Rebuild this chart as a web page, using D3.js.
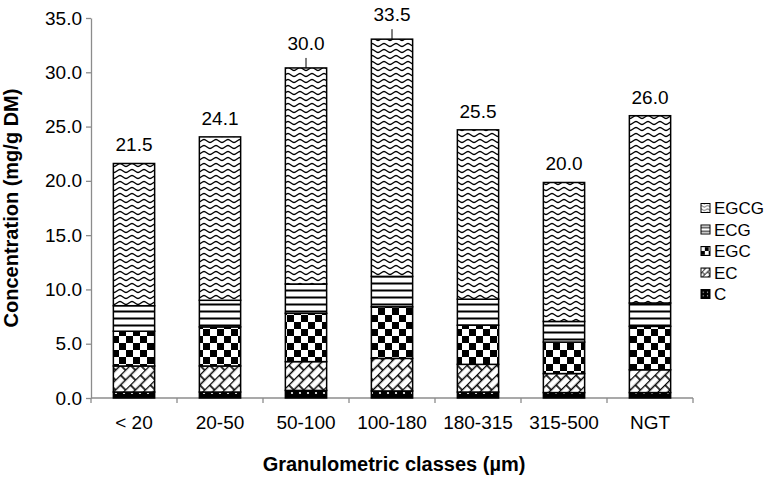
<!DOCTYPE html>
<html><head><meta charset="utf-8">
<script src="https://cdn.jsdelivr.net/npm/d3@7"></script>
<style>body{margin:0;background:#fff}svg{display:block}text{font-family:"Liberation Sans",Arial,sans-serif}</style>
</head><body><svg id="c" width="780" height="478"></svg>
<script>
const categories = ["< 20","20-50","50-100","100-180","180-315","315-500","NGT"];
const seriesNames = ["C","EC","EGC","ECG","EGCG"];
const C    = [0.55,0.55,0.70,0.65,0.55,0.50,0.50];
const EC   = [2.40,2.40,2.65,3.00,2.55,1.75,2.10];
const EGC  = [3.20,3.60,4.45,4.75,3.60,2.90,4.00];
const ECG  = [2.35,2.45,2.70,2.80,2.40,1.90,2.15];
const EGCG = [13.10,15.05,19.90,21.85,15.60,12.80,17.25];
const totalLabels = ["21.5","24.1","30.0","33.5","25.5","20.0","26.0"];
const leader = [false,false,true,true,false,false,false];
const yTicks = [0,5,10,15,20,25,30,35];

const svg = d3.select("#c");
const L=91, R=693, T=18, B=398;
const x = d3.scaleBand().domain(categories).range([L,R]).paddingInner(0.52).paddingOuter(0.26);
const y = d3.scaleLinear().domain([0,35]).range([B,T]);

const defs = svg.append("defs");
function mkPatterns(suffix, s){
  let p = defs.append("pattern").attr("id","pC"+suffix).attr("patternUnits","userSpaceOnUse")
    .attr("width",8).attr("height",6).attr("patternTransform",`scale(${s})`);
  p.append("rect").attr("width",8).attr("height",6).attr("fill","#000");
  p.append("circle").attr("cx",4).attr("cy",3).attr("r",1.1).attr("fill","#fff");
  p = defs.append("pattern").attr("id","pEC"+suffix).attr("patternUnits","userSpaceOnUse")
    .attr("width",14).attr("height",14).attr("patternTransform",`scale(${s}) rotate(-45)`);
  p.append("rect").attr("width",14).attr("height",14).attr("fill","#fff");
  p.append("path").attr("d","M0,0.5H14M0,7.5H14M2,0.5V7.5M9,7.5V14.5")
    .attr("stroke","#000").attr("stroke-width",1.6).attr("fill","none");
  p = defs.append("pattern").attr("id","pEGC"+suffix).attr("patternUnits","userSpaceOnUse")
    .attr("width",14).attr("height",14).attr("patternTransform",`scale(${s})`);
  p.append("rect").attr("width",14).attr("height",14).attr("fill","#fff");
  p.append("rect").attr("width",7).attr("height",7).attr("fill","#000");
  p.append("rect").attr("x",7).attr("y",7).attr("width",7).attr("height",7).attr("fill","#000");
  p = defs.append("pattern").attr("id","pECG"+suffix).attr("patternUnits","userSpaceOnUse")
    .attr("width",8).attr("height",7).attr("patternTransform",`scale(${s})`);
  p.append("rect").attr("width",8).attr("height",7).attr("fill","#fff");
  p.append("rect").attr("y",2.5).attr("width",8).attr("height",2).attr("fill","#000");
  p = defs.append("pattern").attr("id","pEGCG"+suffix).attr("patternUnits","userSpaceOnUse")
    .attr("width",12).attr("height",6).attr("patternTransform",`scale(${s})`);
  p.append("rect").attr("width",12).attr("height",6).attr("fill","#fff");
  p.append("path").attr("d","M0,1.5C2,1.5 4,4.5 6,4.5C8,4.5 10,1.5 12,1.5")
    .attr("stroke","#000").attr("stroke-width",1.3).attr("fill","none");
}
mkPatterns("",1);
mkPatterns("L",0.55);

const rows = categories.map((c,i)=>({cat:c,C:C[i],EC:EC[i],EGC:EGC[i],ECG:ECG[i],EGCG:EGCG[i]}));
const stacked = d3.stack().keys(seriesNames)(rows);

const gy = svg.append("g").attr("transform",`translate(${L},0)`)
  .call(d3.axisLeft(y).tickValues(yTicks).tickFormat(d3.format(".1f")).tickSize(5).tickSizeOuter(0));
gy.select(".domain").attr("stroke","#8c8c8c").attr("stroke-width",1.3);
gy.selectAll(".tick line").attr("stroke","#8c8c8c").attr("stroke-width",1.3);
gy.selectAll(".tick text").attr("font-size",19).attr("fill","#000").attr("x",-9)
  .attr("font-family","Liberation Sans, Arial, sans-serif");

const gx = svg.append("g").attr("transform",`translate(0,${B})`);
gx.append("line").attr("x1",L).attr("x2",R).attr("stroke","#8c8c8c").attr("stroke-width",1.3);
d3.range(categories.length+1).forEach(k=>{
  const xx = L + k*(R-L)/categories.length;
  gx.append("line").attr("x1",xx).attr("x2",xx).attr("y1",0).attr("y2",5).attr("stroke","#8c8c8c").attr("stroke-width",1.3);
});
gx.selectAll("text.cat").data(categories).enter().append("text").attr("class","cat")
  .attr("x",d=>x(d)+x.bandwidth()/2).attr("y",31).attr("text-anchor","middle")
  .attr("font-size",19).text(d=>d);

stacked.forEach(layer=>{
  svg.append("g").selectAll("rect").data(layer).enter().append("rect")
    .attr("x",d=>x(d.data.cat)).attr("width",x.bandwidth())
    .attr("y",d=>y(d[1])).attr("height",d=>y(d[0])-y(d[1]))
    .attr("fill",`url(#p${layer.key})`).attr("stroke","#000").attr("stroke-width",1.5);
});

const topLayer = stacked[stacked.length-1];
topLayer.forEach((d,i)=>{
  const cx = x(d.data.cat)+x.bandwidth()/2;
  const ty = y(d[1]);
  if(leader[i]){
    svg.append("line").attr("x1",cx).attr("x2",cx).attr("y1",ty-10).attr("y2",ty).attr("stroke","#000").attr("stroke-width",1);
    svg.append("text").attr("x",cx).attr("y",ty-18).attr("text-anchor","middle").attr("font-size",19).text(totalLabels[i]);
  } else {
    svg.append("text").attr("x",cx).attr("y",ty-12).attr("text-anchor","middle").attr("font-size",19).text(totalLabels[i]);
  }
});

const legendOrder = seriesNames.slice().reverse();
const lg = svg.append("g").attr("transform","translate(701,208)");
legendOrder.forEach((k,i)=>{
  const g = lg.append("g").attr("transform",`translate(0,${i*21.5})`);
  g.append("rect").attr("x",0).attr("y",-4.5).attr("width",9).attr("height",9)
    .attr("fill",`url(#p${k}L)`).attr("stroke","#000").attr("stroke-width",1);
  g.append("text").attr("x",13).attr("y",6).attr("font-size",17).text(k);
});

svg.append("text").attr("transform",`translate(18,208) rotate(-90)`).attr("text-anchor","middle")
  .attr("font-size",20).attr("font-weight","bold").text("Concentration (mg/g DM)");
svg.append("text").attr("x",394).attr("y",471).attr("text-anchor","middle")
  .attr("font-size",20).attr("font-weight","bold").text("Granulometric classes (µm)");
</script></body></html>
